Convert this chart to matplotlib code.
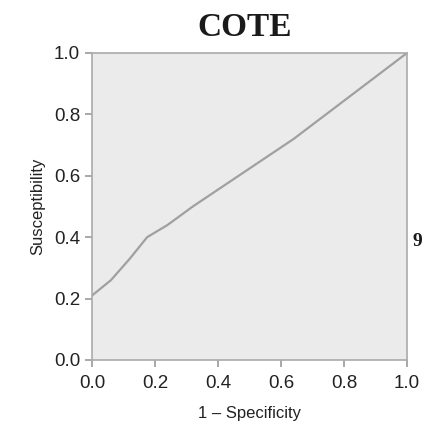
import matplotlib.pyplot as plt

plt.rcParams['font.family'] = ['Liberation Sans', 'DejaVu Sans']

# ROC curve points
fpr = [0.0, 0.06, 0.12, 0.175, 0.24, 0.32, 0.64, 1.0]
tpr = [0.21, 0.26, 0.33, 0.40, 0.44, 0.50, 0.72, 1.0]
ticks = [0.0, 0.2, 0.4, 0.6, 0.8, 1.0]

fig = plt.figure(figsize=(4.23, 4.28), dpi=100)
ax = fig.add_axes([92 / 423, 68 / 428, 315 / 423, 307 / 428])
ax.set_facecolor('#ebebeb')
ax.plot(fpr, tpr, color='#a0a0a0', lw=1.6)
ax.set_xlim(0, 1)
ax.set_ylim(0, 1)
ax.set_xticks(ticks)
ax.set_yticks(ticks)
ax.set_xticklabels(['%.1f' % t for t in ticks], fontsize=13.5)
ax.set_yticklabels(['%.1f' % t for t in ticks], fontsize=13.5)
ax.tick_params(colors='#999999', labelcolor='#222222', length=5, width=1.2)
ax.tick_params(axis='x', pad=6)
for s in ax.spines.values():
    s.set_color('#aaaaaa')
    s.set_linewidth(1.2)
ax.set_xlabel('1 \u2013 Specificity', fontsize=12, color='#222222', labelpad=10)
ax.set_ylabel('Susceptibility', fontsize=12, color='#222222', labelpad=6)
fig.text(245 / 423, 1 - 27 / 428, 'COTE', fontsize=24, fontweight='bold',
         family='Liberation Serif', ha='center', va='center', color='#1a1a1a')
fig.text(422 / 423, 1 - 242 / 428, '9', fontsize=14, fontweight='bold',
         family='Liberation Serif', ha='right', va='center', color='#1a1a1a')

fig.savefig('out.png', dpi=100)
